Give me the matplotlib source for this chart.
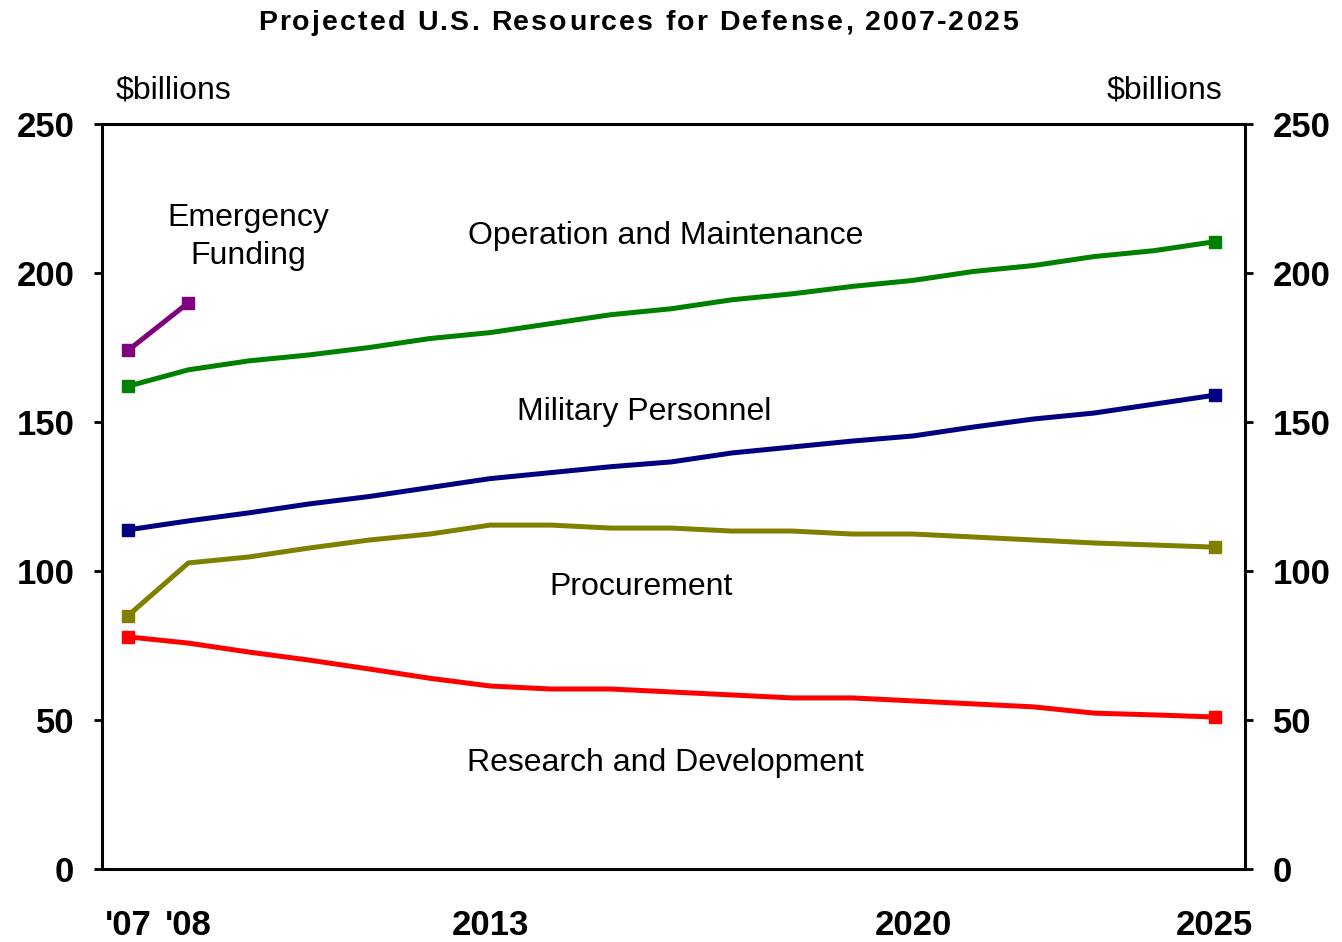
import matplotlib
matplotlib.use("Agg")
import matplotlib.pyplot as plt
from matplotlib.font_manager import FontProperties

plt.rcParams['font.family'] = ['Liberation Sans', 'DejaVu Sans']

years = list(range(2007, 2026))

operation_maintenance = [162, 167.5, 170.5, 172.5, 175, 178, 180, 183, 186, 188,
                         191, 193, 195.5, 197.5, 200.5, 202.5, 205.5, 207.5, 210.5]
military_personnel = [113.8, 116.8, 119.5, 122.5, 125, 128, 131, 133, 135, 136.6,
                      139.6, 141.6, 143.6, 145.3, 148.3, 151, 153, 156, 159]
procurement = [85, 102.7, 104.7, 107.7, 110.4, 112.4, 115.4, 115.4, 114.4, 114.4,
               113.4, 113.4, 112.4, 112.4, 111.4, 110.4, 109.4, 108.7, 108]
research_development = [77.9, 75.8, 72.8, 70.1, 67.1, 64, 61.4, 60.4, 60.4, 59.4,
                        58.4, 57.4, 57.4, 56.4, 55.4, 54.4, 52.3, 51.7, 51]
emergency_years = [2007, 2008]
emergency_funding = [174, 190]

xtick_positions = [2007, 2008, 2013, 2020, 2025]
xtick_labels = ["'07", "'08", "2013", "2020", "2025"]
ytick_values = [0, 50, 100, 150, 200, 250]

title = 'Projected U.S. Resources for Defense, 2007-2025'

fig = plt.figure(figsize=(13.42, 9.42), dpi=100)
ax = fig.add_axes([0.076, 0.0775, 0.8517, 0.7909])

line_kw = dict(lw=3.6, marker='s', markersize=8.5, solid_joinstyle='round',
               solid_capstyle='butt')

series = [
    (operation_maintenance, '#008000'),
    (military_personnel, '#000080'),
    (procurement, '#808000'),
    (research_development, '#FF0000'),
]
for values, color in series:
    ax.plot(years, values, color=color, markevery=[0, len(values) - 1], **line_kw)
ax.plot(emergency_years, emergency_funding, color='#800080', **line_kw)

ax.set_xlim(2006.57, 2025.5)
ax.set_ylim(0, 250)
ax.set_yticks(ytick_values)
ax.set_xticks(xtick_positions)
ax.set_xticklabels(xtick_labels)

for spine in ax.spines.values():
    spine.set_linewidth(2.2)

ax.tick_params(axis='y', which='both', direction='out', length=6, width=2,
               left=True, right=True, labelleft=True, labelright=True,
               labelsize=25, pad=14)
ax.tick_params(axis='x', length=0, labelsize=25, pad=29)
for lbl in ax.get_xticklabels():
    lbl.set_fontweight('bold')
for t in ax.yaxis.get_major_ticks():
    t.label1.set_fontweight('bold')
    t.label2.set_fontweight('bold')

# Title drawn glyph by glyph with extra tracking between letters
renderer = fig.canvas.get_renderer()
title_fp = FontProperties(family=['Liberation Sans', 'DejaVu Sans'],
                          weight='bold', size=20.5)
fig_w_px = fig.get_figwidth() * fig.dpi


def text_width(s):
    w, _, _ = renderer.get_text_width_height_descent(s, title_fp, ismath=False)
    return w


ref_w = text_width('I')
offsets = [text_width(title[:i] + 'I') - ref_w if i else 0.0 for i in range(len(title))]
natural_w = text_width(title)
tracking = 2.1 * fig.dpi / 100
total_w = natural_w + tracking * (len(title) - 1)
title_center_px = 0.4755 * fig_w_px
x_start = title_center_px - total_w / 2
for i, ch in enumerate(title):
    if ch == ' ':
        continue
    x_px = x_start + offsets[i] + tracking * i
    fig.text(x_px / fig_w_px, 0.976, ch, ha='left', va='center',
             fontproperties=title_fp)

fig.text(0.0865, 0.904, '$billions', ha='left', va='center', fontsize=23)
fig.text(0.911, 0.904, '$billions', ha='right', va='center', fontsize=23)

label_kw = dict(ha='center', va='center', fontsize=23)
ax.text(2009.0, 212, 'Emergency\nFunding', linespacing=1.33, **label_kw)
ax.text(2015.9, 212.5, 'Operation and Maintenance', **label_kw)
ax.text(2015.55, 153.5, 'Military Personnel', **label_kw)
ax.text(2015.5, 94.5, 'Procurement', **label_kw)
ax.text(2015.9, 35.5, 'Research and Development', **label_kw)

fig.savefig('out.png', dpi=100)
